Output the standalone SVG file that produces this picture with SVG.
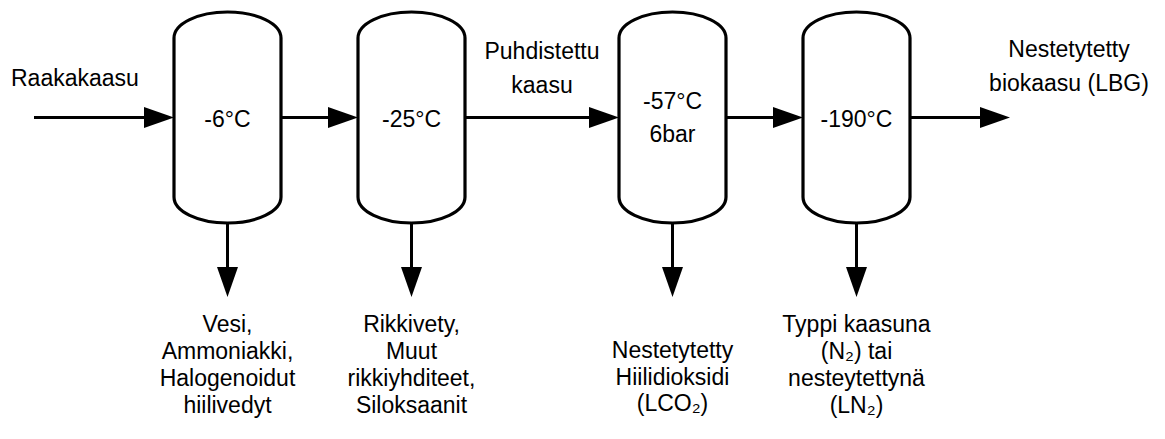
<svg xmlns="http://www.w3.org/2000/svg" width="1165" height="439" viewBox="0 0 1165 439">
<style>
.v{fill:#fff;stroke:#000;stroke-width:3.2}
.c{stroke:#000;stroke-width:3;fill:none}
text{font-family:"Liberation Sans",Arial,sans-serif;font-size:23px;fill:#000}
.m{text-anchor:middle}
</style>
<defs>
<marker id="ah" markerUnits="userSpaceOnUse" markerWidth="30" markerHeight="21" refX="10" refY="10.5" orient="auto" overflow="visible">
<path d="M0,0 L30,10.5 L0,21 Z" fill="#000"/>
</marker>
</defs>
<rect width="1165" height="439" fill="#fff"/>
<g id="connectors">
<line class="c" x1="34" y1="117.5" x2="154" y2="117.5" marker-end="url(#ah)"/>
<line class="c" x1="281" y1="117.5" x2="338" y2="117.5" marker-end="url(#ah)"/>
<line class="c" x1="465" y1="117.5" x2="599" y2="117.5" marker-end="url(#ah)"/>
<line class="c" x1="726" y1="117.5" x2="783" y2="117.5" marker-end="url(#ah)"/>
<line class="c" x1="910" y1="117.5" x2="990" y2="117.5" marker-end="url(#ah)"/>
<line class="c" x1="227.5" y1="222" x2="227.5" y2="277" marker-end="url(#ah)"/>
<line class="c" x1="411.5" y1="222" x2="411.5" y2="277" marker-end="url(#ah)"/>
<line class="c" x1="672.5" y1="222" x2="672.5" y2="277" marker-end="url(#ah)"/>
<line class="c" x1="856.5" y1="222" x2="856.5" y2="277" marker-end="url(#ah)"/>
</g>
<g id="vessel1">
<path class="v" d="M174,38 A53.5,26 0 0 1 281,38 L281,197 A53.5,26 0 0 1 174,197 Z"/>
<text class="m" x="227.5" y="127">-6°C</text>
</g>
<g id="vessel2">
<path class="v" d="M358,38 A53.5,26 0 0 1 465,38 L465,197 A53.5,26 0 0 1 358,197 Z"/>
<text class="m" x="411.5" y="127">-25°C</text>
</g>
<g id="vessel3">
<path class="v" d="M619,38 A53.5,26 0 0 1 726,38 L726,197 A53.5,26 0 0 1 619,197 Z"/>
<text class="m" x="672.5" y="109">-57°C</text>
<text class="m" x="672.5" y="142">6bar</text>
</g>
<g id="vessel4">
<path class="v" d="M803,38 A53.5,26 0 0 1 910,38 L910,197 A53.5,26 0 0 1 803,197 Z"/>
<text class="m" x="856.5" y="127">-190°C</text>
</g>
<g id="label-raakakaasu">
<text x="11" y="86">Raakakaasu</text>
</g>
<g id="label-puhdistettu">
<text class="m" x="542" y="59">Puhdistettu</text>
<text class="m" x="542" y="93">kaasu</text>
</g>
<g id="label-lbg">
<text class="m" x="1069" y="57">Nestetytetty</text>
<text class="m" x="1069" y="91">biokaasu (LBG)</text>
</g>
<g id="out1">
<text class="m" x="227.5" y="332">Vesi,</text>
<text class="m" x="227.5" y="359">Ammoniakki,</text>
<text class="m" x="227.5" y="386">Halogenoidut</text>
<text class="m" x="227.5" y="413">hiilivedyt</text>
</g>
<g id="out2">
<text class="m" x="411.5" y="332">Rikkivety,</text>
<text class="m" x="411.5" y="359">Muut</text>
<text class="m" x="411.5" y="386">rikkiyhditeet,</text>
<text class="m" x="411.5" y="413">Siloksaanit</text>
</g>
<g id="out3">
<text class="m" x="672.5" y="358">Nestetytetty</text>
<text class="m" x="672.5" y="385">Hiilidioksidi</text>
<text class="m" x="672.5" y="411">(LCO₂)</text>
</g>
<g id="out4">
<text class="m" x="856.5" y="332">Typpi kaasuna</text>
<text class="m" x="856.5" y="359">(N₂) tai</text>
<text class="m" x="856.5" y="386">nesteytettynä</text>
<text class="m" x="856.5" y="413">(LN₂)</text>
</g>
</svg>
